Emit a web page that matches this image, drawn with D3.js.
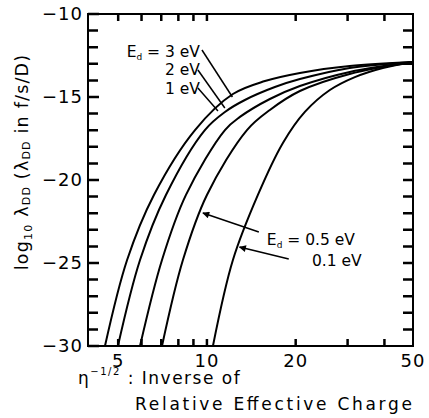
<!DOCTYPE html>
<html>
  <head>
    <meta charset="UTF-8">
    <title>Inverse of relative effective charge</title>
    <script src="https://cdnjs.cloudflare.com/ajax/libs/d3/7.8.5/d3.min.js"></script>
    <style type="text/css">
      body { margin: 0px; background: #fff; }
      text { font-family: "DejaVu Sans", sans-serif; fill: #000; }
      .tick-label { font-size: 18px; letter-spacing: 1px; }
      .anno { font-size: 15.5px; }
      .curve { fill: none; stroke: #000; stroke-width: 2; }
    </style>
  </head>
  <body>
    <div id="chart"></div>
    <script>
      // x: inverse of relative effective charge, y: log10 lambdaDD
      const ed3 = [[4.51,-30],[5.36,-24.82],[6.61,-20.9],[9.11,-16.99],[12.25,-14.82],[15.73,-14.04],[20.67,-13.55],[30.5,-13.13],[50,-12.89]];
      const ed2 = [[4.99,-30],[5.93,-24.82],[7.26,-20.9],[9.84,-16.99],[11.51,-15.9],[13.45,-15.18],[17.0,-14.4],[20.67,-13.92],[30.5,-13.25],[50,-12.89]];
      const ed1 = [[5.93,-30],[7.04,-24.82],[8.49,-20.9],[11.51,-16.99],[12.94,-16.2],[16.35,-15.12],[20.67,-14.34],[30.5,-13.49],[50,-12.89]];
      const ed05 = [[7.04,-30],[8.29,-24.82],[10.0,-20.9],[13.67,-16.99],[16.35,-15.78],[20.67,-14.64],[30.5,-13.61],[50,-12.89]];
      const ed01 = [[10.48,-30],[12.25,-24.82],[14.89,-20.9],[18.1,-17.77],[21.49,-15.9],[26.12,-14.58],[31.75,-13.8],[39.5,-13.25],[50,-12.89]];
      const series = [ed3, ed2, ed1, ed05, ed01];

      const xTickLabels = [5, 10, 20, 50];
      const xTicks = [5, 6, 7, 8, 9, 10, 20, 30, 40];
      const yTickLabels = [-10, -15, -20, -25, -30];
      const yTicks = d3.range(-29, -10);

      const margin = {top: 14, right: 16, bottom: 72, left: 88};
      const width = 429, height = 418;
      const innerWidth = width - margin.left - margin.right;
      const innerHeight = height - margin.top - margin.bottom;

      const svg = d3.select("#chart").append("svg")
        .attr("width", width)
        .attr("height", height);

      svg.append("defs").append("marker")
        .attr("id", "arrow")
        .attr("viewBox", "0 0 10 10")
        .attr("refX", 9).attr("refY", 5)
        .attr("markerWidth", 10).attr("markerHeight", 7)
        .attr("markerUnits", "userSpaceOnUse")
        .attr("orient", "auto")
        .append("path").attr("d", "M0,0 L10,5 L0,10 z").attr("fill", "#000");

      const g = svg.append("g")
        .attr("transform", `translate(${margin.left},${margin.top})`);

      const x = d3.scaleLog().domain([3.95, 50]).range([0, innerWidth]);
      const y = d3.scaleLinear().domain([-30, -10]).range([innerHeight, 0]);

      // inward ticks on all four sides, one path
      const tickPath = d3.path();
      yTicks.forEach(v => {
        tickPath.moveTo(0, y(v)); tickPath.lineTo(10, y(v));
        tickPath.moveTo(innerWidth, y(v)); tickPath.lineTo(innerWidth - 10, y(v));
      });
      yTickLabels.forEach(v => {
        tickPath.moveTo(0, y(v)); tickPath.lineTo(11, y(v));
      });
      xTicks.forEach(v => {
        tickPath.moveTo(x(v), 0); tickPath.lineTo(x(v), 7);
        tickPath.moveTo(x(v), innerHeight); tickPath.lineTo(x(v), innerHeight - 7);
      });
      g.append("path")
        .attr("d", tickPath.toString())
        .attr("fill", "none")
        .attr("stroke", "#000")
        .attr("stroke-width", 2.5);

      // frame
      g.append("rect")
        .attr("width", innerWidth).attr("height", innerHeight)
        .attr("fill", "none").attr("stroke", "#000").attr("stroke-width", 2);

      // tick labels
      g.selectAll(".ylab").data(yTickLabels).enter().append("text")
        .attr("class", "tick-label")
        .attr("x", -5).attr("y", d => y(d))
        .attr("dy", "0.36em")
        .attr("text-anchor", "end")
        .text(d => "\u2212" + Math.abs(d));
      g.selectAll(".xlab").data(xTickLabels).enter().append("text")
        .attr("class", "tick-label")
        .attr("x", d => x(d)).attr("y", innerHeight + 21)
        .attr("text-anchor", "middle")
        .text(d => d);

      // curves
      const line = d3.line()
        .x(d => x(d[0])).y(d => y(d[1]))
        .curve(d3.curveCatmullRom.alpha(0.5));
      g.selectAll(".curve").data(series).enter().append("path")
        .attr("class", "curve")
        .attr("d", line);

      // annotations (positions in data units)
      const upper = [
        {sub: true, txt: " = 3 eV", tx: 9.47, ty: -12.59, from: [9.62, -12.17], to: [12.2, -15.0]},
        {sub: false, txt: "2 eV", tx: 9.47, ty: -13.67, from: [9.32, -13.37], to: [11.5, -15.66]},
        {sub: false, txt: "1 eV", tx: 9.47, ty: -14.82, from: [9.32, -14.46], to: [10.9, -15.84]}
      ];
      upper.forEach(a => {
        const t = g.append("text").attr("class", "anno")
          .attr("x", x(a.tx)).attr("y", y(a.ty)).attr("text-anchor", "end");
        if (a.sub) {
          t.append("tspan").text("E");
          t.append("tspan").attr("font-size", "9px").attr("dy", 3).text("d");
          t.append("tspan").attr("dy", -3).text(a.txt);
        } else {
          t.text(a.txt);
        }
        g.append("line")
          .attr("x1", x(a.from[0])).attr("y1", y(a.from[1]))
          .attr("x2", x(a.to[0])).attr("y2", y(a.to[1]))
          .attr("stroke", "#000").attr("stroke-width", 1.5);
      });

      const t05 = g.append("text").attr("class", "anno")
        .attr("x", x(15.97)).attr("y", y(-23.92));
      t05.append("tspan").text("E");
      t05.append("tspan").attr("font-size", "9px").attr("dy", 3).text("d");
      t05.append("tspan").attr("dy", -3).text(" = 0.5 eV");
      g.append("text").attr("class", "anno")
        .attr("x", x(22.7)).attr("y", y(-25.18)).text("0.1 eV");

      const arrows = [
        {from: [15.0, -23.13], to: [9.69, -21.99]},
        {from: [18.95, -24.76], to: [12.9, -24.04]}
      ];
      g.selectAll(".arrow").data(arrows).enter().append("line")
        .attr("x1", d => x(d.from[0])).attr("y1", d => y(d.from[1]))
        .attr("x2", d => x(d.to[0])).attr("y2", d => y(d.to[1]))
        .attr("stroke", "#000").attr("stroke-width", 1.5)
        .attr("marker-end", "url(#arrow)");

      // y axis title
      const yt = svg.append("text")
        .attr("transform", "translate(28,162) rotate(-90)")
        .attr("text-anchor", "middle")
        .attr("font-size", "17.5px")
        .attr("letter-spacing", "1.2px");
      yt.append("tspan").text("log");
      yt.append("tspan").attr("font-size", "11px").attr("dy", 4).text("10");
      yt.append("tspan").attr("dy", -4).text(" \u03bb");
      yt.append("tspan").attr("font-size", "11px").attr("dy", 2).text("DD");
      yt.append("tspan").attr("dy", -2).text("   (\u03bb");
      yt.append("tspan").attr("font-size", "11px").attr("dy", 2).text("DD");
      yt.append("tspan").attr("dy", -2).text(" in f/s/D)");

      // x axis title
      const xt = svg.append("text").attr("x", 78).attr("y", 384)
        .attr("font-size", "17px").attr("letter-spacing", "1.5px");
      xt.append("tspan").text("\u03b7");
      xt.append("tspan").attr("font-size", "10px").attr("dy", -9).text("\u22121/2");
      xt.append("tspan").attr("dy", 9).text(" : Inverse of");
      svg.append("text").attr("x", 135).attr("y", 410)
        .attr("font-size", "17px")
        .attr("textLength", 277).attr("lengthAdjust", "spacing")
        .text("Relative Effective Charge");
    </script>
  </body>
</html>
